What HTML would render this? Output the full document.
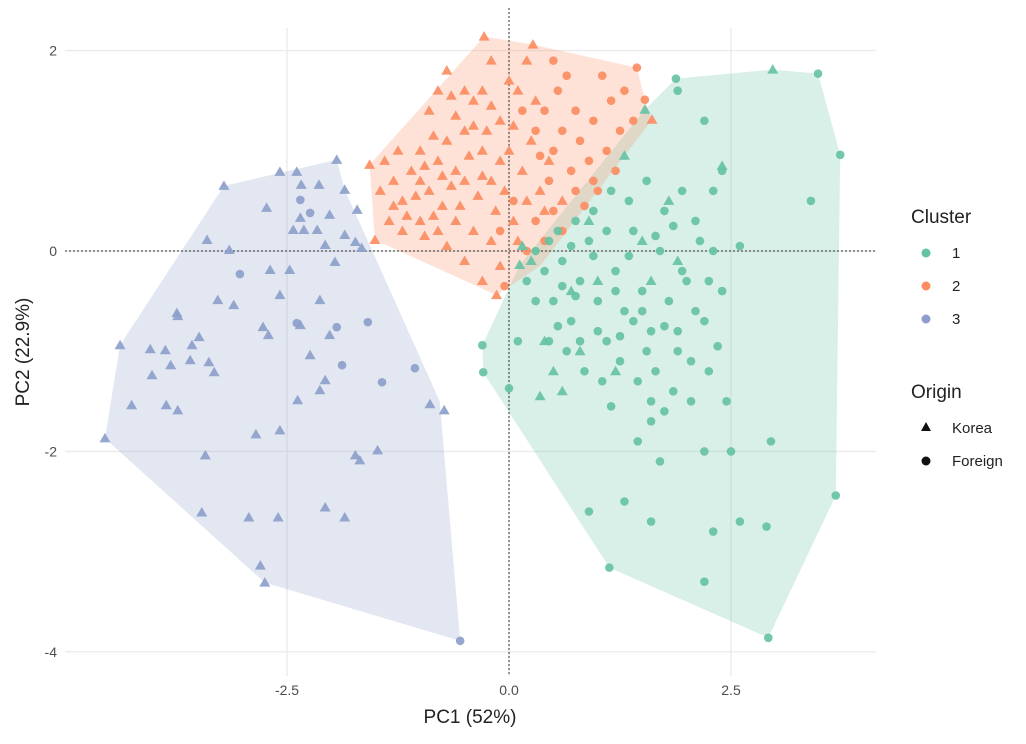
<!DOCTYPE html>
<html><head><meta charset="utf-8"><style>
body{margin:0;background:#fff;font-family:"Liberation Sans",sans-serif;}
svg text{font-family:"Liberation Sans",sans-serif;}
</style></head><body>
<svg id="chart" width="1026" height="739" xmlns="http://www.w3.org/2000/svg">
<g id="grid"></g>
<g id="hulls"></g>
<g id="refs"></g>
<g id="pts"></g>
<g id="axes"></g>
<text x="470" y="723" font-size="19" text-anchor="middle" fill="#222">PC1 (52%)</text>
<text transform="translate(29,352) rotate(-90)" font-size="19" text-anchor="middle" fill="#222">PC2 (22.9%)</text>
<g>
<text x="911" y="223" font-size="19" fill="#222">Cluster</text>
<circle cx="926" cy="253" r="4.5" fill="#66c2a5"/>
<text x="952" y="258" font-size="15" fill="#222">1</text>
<circle cx="926" cy="286" r="4.5" fill="#fc8d62"/>
<text x="952" y="291" font-size="15" fill="#222">2</text>
<circle cx="926" cy="319" r="4.5" fill="#8da0cb"/>
<text x="952" y="324" font-size="15" fill="#222">3</text>
<text x="911" y="398" font-size="19" fill="#222">Origin</text>
<polygon points="926,422 931,431 921,431" fill="#111"/>
<text x="952" y="433" font-size="15" fill="#222">Korea</text>
<circle cx="926" cy="461" r="4.5" fill="#111"/>
<text x="952" y="466" font-size="15" fill="#222">Foreign</text>
</g>
</svg>
<script>
const xTicks=[-2.5,0,2.5];
const xTickLabels=["-2.5","0.0","2.5"];
const yTicks=[-4,-2,0,2];
const yTickLabels=["-4","-2","0","2"];
const colors={1:"#66c2a5",2:"#fc8d62",3:"#8da0cb"};
const hull1=[[1.88,1.72],[2.97,1.81],[3.48,1.77],[3.73,0.96],[3.68,-2.44],[2.92,-3.86],[1.13,-3.16],[-0.29,-1.21],[-0.30,-0.94],[0.12,-0.14],[1.53,1.41]];
const hull2=[[-1.57,0.86],[-0.28,2.14],[0.27,2.06],[1.44,1.83],[1.53,1.51],[1.61,1.31],[0.35,-0.15],[-0.14,-0.44],[-1.51,0.11]];
const hull3=[[-3.21,0.65],[-1.94,0.91],[-1.85,0.61],[-1.57,0.06],[-0.78,-1.5],[-0.55,-3.89],[-2.75,-3.31],[-4.55,-1.87],[-4.38,-0.94]];
const c3Korea=[[-3.21,0.65],[-2.73,0.43],[-2.58,0.79],[-2.39,0.79],[-2.34,0.66],[-2.14,0.66],[-1.94,0.91],[-1.85,0.61],[-1.71,0.41],[-2.02,0.36],[-1.85,0.16],[-1.73,0.09],[-1.66,0.03],[-2.35,0.33],[-2.31,0.21],[-2.16,0.21],[-3.40,0.11],[-3.15,0.01],[-3.28,-0.49],[-3.10,-0.54],[-3.74,-0.62],[-3.73,-0.65],[-3.49,-0.86],[-3.57,-0.94],[-4.04,-0.98],[-3.87,-0.99],[-3.81,-1.14],[-3.59,-1.09],[-3.38,-1.11],[-3.32,-1.21],[-2.77,-0.76],[-2.71,-0.84],[-2.69,-0.19],[-2.58,-0.44],[-2.13,-0.49],[-2.35,-0.74],[-2.02,-0.84],[-2.07,-1.29],[-2.24,-1.04],[-2.13,-1.39],[-2.38,-1.49],[-2.58,-1.79],[-2.85,-1.83],[-4.02,-1.24],[-4.25,-1.54],[-4.38,-0.94],[-4.55,-1.87],[-3.86,-1.54],[-3.73,-1.59],[-3.42,-2.04],[-3.46,-2.61],[-2.93,-2.66],[-2.60,-2.66],[-2.07,-2.56],[-1.85,-2.66],[-1.73,-2.04],[-1.68,-2.09],[-1.48,-1.99],[-2.80,-3.14],[-2.75,-3.31],[-0.89,-1.53],[-0.73,-1.59],[-2.43,0.21],[-1.96,-0.11],[-2.07,0.06],[-2.47,-0.19]];
const c3Foreign=[[-3.03,-0.23],[-2.39,-0.72],[-1.94,-0.76],[-1.59,-0.71],[-1.88,-1.14],[-1.43,-1.31],[-1.06,-1.17],[-0.55,-3.89],[-2.35,0.51],[-2.24,0.38]];
const c2Korea=[[-1.57,0.86],[-0.28,2.14],[0.27,2.06],[1.61,1.31],[-1.51,0.11],[-0.14,-0.44],[-1.4,0.9],[-1.3,0.7],[-1.2,0.5],[-1.1,0.8],[-1.0,1.0],[-0.9,0.6],[-0.8,0.9],[-0.7,1.1],[-0.6,0.8],[-0.5,1.2],[-0.4,1.5],[-0.3,1.0],[-0.2,0.7],[-0.1,1.3],[0.0,1.0],[0.1,1.6],[-0.9,1.4],[-0.8,1.6],[-0.7,1.8],[-0.5,1.6],[-0.3,1.6],[-0.2,1.9],[0.0,1.7],[0.2,1.9],[0.3,1.5],[-1.35,0.3],[-1.2,0.2],[-1.0,0.3],[-0.8,0.2],[-0.6,0.3],[-0.4,0.2],[-0.2,0.1],[-0.5,-0.1],[-0.3,-0.3],[-1.45,0.6],[-1.25,1.0],[-1.05,0.55],[-0.95,0.85],[-0.75,0.45],[-0.65,0.65],[-0.55,0.45],[-0.45,0.95],[-0.35,0.55],[-0.25,1.2],[-0.15,0.4],[-0.05,0.6],[0.05,0.3],[0.15,0.8],[0.25,1.1],[0.35,0.6],[-0.85,1.15],[-0.6,1.35],[-0.4,1.25],[-1.15,0.35],[-0.95,0.15],[-0.7,0.05],[-0.1,-0.15],[0.1,0.1],[0.45,0.9],[0.6,0.5],[-0.65,1.55],[0.05,1.25],[-1.3,0.45],[-0.85,0.35],[-0.1,0.9],[-0.3,0.75],[0.2,0.5],[0.4,0.4],[-0.5,0.7],[-1.0,0.7],[-0.75,0.75],[-0.2,1.45]];
const c2Foreign=[[1.44,1.83],[1.53,1.51],[0.3,1.2],[0.4,1.4],[0.5,1.0],[0.55,1.6],[0.6,1.2],[0.7,0.8],[0.75,1.4],[0.8,1.1],[0.9,0.9],[0.95,1.3],[1.0,0.6],[1.1,1.0],[1.15,1.5],[1.2,0.8],[1.25,1.2],[1.3,1.6],[1.4,1.3],[0.5,0.4],[0.6,0.2],[0.45,0.7],[0.2,0.0],[0.3,0.3],[0.5,1.9],[0.65,1.75],[0.85,0.45],[0.35,0.95],[0.15,1.4],[0.05,0.5],[-0.05,-0.35],[0.75,0.6],[1.05,1.75],[-0.1,0.2],[0.95,0.7],[0.4,0.1]];
const c1Foreign=[[1.88,1.72],[3.48,1.77],[3.73,0.96],[3.68,-2.44],[2.92,-3.86],[1.13,-3.16],[-0.29,-1.21],[-0.30,-0.94],[0.4,-0.2],[0.5,-0.5],[0.6,-0.1],[0.7,-0.7],[0.8,-0.3],[0.9,0.1],[1.0,-0.5],[1.1,-0.9],[1.2,-0.2],[1.3,-0.6],[1.4,0.2],[1.5,-0.4],[1.6,-0.8],[1.7,0.0],[1.8,-0.5],[1.9,-1.0],[2.0,-0.3],[2.1,0.3],[2.2,-0.7],[2.3,0.0],[2.4,-0.4],[0.45,-0.9],[0.65,-1.0],[0.85,-1.2],[1.05,-1.3],[1.25,-1.1],[1.45,-1.3],[1.65,-1.2],[1.85,-1.4],[2.05,-1.1],[2.25,-1.2],[0.55,0.2],[0.75,0.3],[0.95,0.4],[1.15,0.6],[1.35,0.5],[1.55,0.7],[1.75,0.4],[1.95,0.6],[2.15,0.1],[1.6,-1.5],[1.6,-1.7],[1.7,-2.1],[2.2,-2.0],[2.5,-2.0],[1.3,-2.5],[1.6,-2.7],[0.9,-2.6],[2.2,-3.3],[2.3,-2.8],[2.6,-2.7],[2.9,-2.75],[2.95,-1.9],[2.3,0.6],[2.6,0.05],[3.4,0.5],[2.4,0.8],[1.9,1.6],[2.2,1.3],[1.0,-0.8],[1.2,-0.4],[1.4,-0.7],[0.3,-0.5],[0.2,-0.3],[0.1,-0.9],[1.75,-0.75],[1.95,-0.2],[2.35,-0.95],[1.55,-1.0],[0.75,-0.45],[1.35,-0.05],[1.85,0.25],[2.45,-1.5],[2.05,-1.5],[1.15,-1.55],[0.95,-0.05],[0.55,-0.75],[1.65,0.15],[2.1,-0.6],[1.5,-0.6],[0.8,-0.9],[0.6,-0.35],[1.9,-0.8],[2.25,-0.3],[0.3,0.0],[0.45,0.1],[1.1,0.2],[0.7,0.05],[1.25,-0.85],[1.75,-1.6],[1.45,-1.9],[0.0,-1.37]];
const c1Korea=[[2.97,1.81],[0.12,-0.14],[1.53,1.41],[0.4,-0.9],[0.5,-1.2],[0.8,-1.0],[1.2,-1.2],[0.6,-1.4],[0.35,-1.45],[0.9,0.3],[1.5,0.1],[2.4,0.85],[1.8,0.5],[0.7,-0.4],[1.6,-0.3],[1.9,-0.1],[1.0,-0.3],[0.25,-0.1],[0.15,0.05],[1.3,0.95]];

const NS="http://www.w3.org/2000/svg";
const X0=65,X1=876,Y0=28,Y1=676;
function sx(v){return 509+v*88.8;}
function sy(v){return 251-v*100.2;}
function mk(tag,attrs,parent){const e=document.createElementNS(NS,tag);for(const k in attrs)e.setAttribute(k,attrs[k]);parent.appendChild(e);return e;}
const grid=document.getElementById('grid'),axes=document.getElementById('axes');
xTicks.forEach((t,i)=>{
  const l=mk('line',{x1:sx(t),x2:sx(t),y1:Y0,y2:Y1,stroke:'#ebebeb','stroke-width':1.4},grid);
  
  
  const tx=mk('text',{x:sx(t),y:695,'font-size':14,'text-anchor':'middle',fill:'#4d4d4d'},axes);
  tx.textContent=xTickLabels[i];
  
  
});
yTicks.forEach((t,i)=>{
  const l=mk('line',{x1:X0,x2:X1,y1:sy(t),y2:sy(t),stroke:'#ebebeb','stroke-width':1.4},grid);
  
  
  const tx=mk('text',{x:57,y:sy(t)+5,'font-size':14,'text-anchor':'end',fill:'#4d4d4d'},axes);
  tx.textContent=yTickLabels[i];
  
  
});
const hulls=document.getElementById('hulls');
[[hull1,1],[hull2,2],[hull3,3]].forEach(([h,c])=>{
  const p=mk('polygon',{points:h.map(d=>sx(d[0])+','+sy(d[1])).join(' '),fill:colors[c],'fill-opacity':0.25},hulls);
  
  
});
const refs=document.getElementById('refs');
const v=mk('line',{x1:sx(0),x2:sx(0),y1:Y0-20,y2:Y1,stroke:'#333','stroke-width':1,'stroke-dasharray':'2,2'},refs);


const hz=mk('line',{x1:X0,x2:X1,y1:sy(0),y2:sy(0),stroke:'#333','stroke-width':1,'stroke-dasharray':'2,2'},refs);


const pts=document.getElementById('pts');
function tri(arr,c){arr.forEach(d=>{const x=sx(d[0]),y=sy(d[1]);
  const p=mk('polygon',{points:`${x},${y-5.5} ${x+5.5},${y+4} ${x-5.5},${y+4}`,fill:colors[c],'fill-opacity':0.92},pts);
  
  });}
function circ(arr,c){arr.forEach(d=>{
  const p=mk('circle',{cx:sx(d[0]),cy:sy(d[1]),r:4.3,fill:colors[c],'fill-opacity':0.92},pts);
  
  });}
tri(c3Korea,3);circ(c3Foreign,3);tri(c2Korea,2);circ(c2Foreign,2);circ(c1Foreign,1);tri(c1Korea,1);
</script>
</body></html>
